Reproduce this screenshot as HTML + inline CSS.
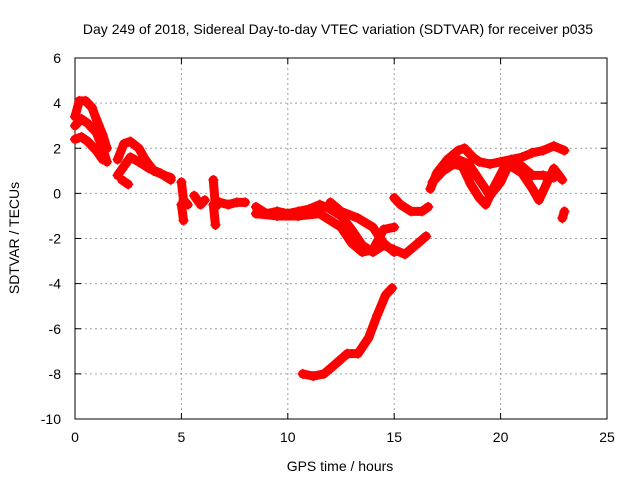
<!DOCTYPE html>
<html><head><meta charset="utf-8"><style>
html,body{margin:0;padding:0;background:#fff;}
svg text{font-family:"Liberation Sans",sans-serif;font-size:14px;fill:#000;}
</style></head><body>
<svg id="chart" width="640" height="480" viewBox="0 0 640 480" xmlns="http://www.w3.org/2000/svg">
<rect width="640" height="480" fill="#fff"/>
<text x="338" y="34" text-anchor="middle" font-size="14.5">Day 249 of 2018, Sidereal Day-to-day VTEC variation (SDTVAR) for receiver p035</text>
<g id="grid"></g>
<g id="axes"></g>
<g id="series"></g>
<text x="340" y="471" text-anchor="middle">GPS time / hours</text>
<text x="19" y="238" text-anchor="middle" transform="rotate(-90 19 238)">SDTVAR / TECUs</text>
</svg>
<script>
const xTicks=[0,5,10,15,20,25];
const yTicks=[6,4,2,0,-2,-4,-6,-8,-10];
const tracks=[
[[0,3.4],[0.2,4.1],[0.5,4.1],[0.8,3.8],[1.0,3.3],[1.3,2.6],[1.5,2.0]],
[[0,3.0],[0.3,3.3],[0.6,3.1],[1.0,2.7],[1.3,2.0],[1.5,1.4]],
[[0,2.4],[0.3,2.5],[0.6,2.3],[1.0,1.9],[1.3,1.5]],
[[2.0,1.5],[2.3,2.2],[2.6,2.3],[3.0,2.0],[3.3,1.5],[3.7,1.0],[4.2,0.8],[4.5,0.7]],
[[2.0,0.8],[2.3,1.2],[2.6,1.6],[3.0,1.4],[3.5,1.1],[4.0,0.9],[4.5,0.6]],
[[2.2,0.6],[2.5,0.4]],
[[5.0,0.5],[5.1,-0.3],[5.3,-0.5]],
[[5.0,-0.5],[5.1,-1.2]],
[[5.6,-0.1],[5.9,-0.5],[6.1,-0.3]],
[[6.5,0.6],[6.6,-0.6],[6.8,-0.4],[7.2,-0.5],[7.6,-0.4],[8.0,-0.4]],
[[6.5,-0.5],[6.6,-1.4]],
[[8.5,-0.6],[9,-0.9],[9.5,-0.8],[10,-0.9],[10.5,-0.8],[11,-0.7],[11.5,-0.5],[12,-0.7],[12.5,-1.0],[13,-1.6],[13.5,-2.3],[14,-2.6],[14.5,-2.3],[15,-2.5],[15.5,-2.7],[16,-2.3],[16.5,-1.9]],
[[8.5,-0.9],[9.5,-1.0],[10.5,-1.0],[11.5,-0.9],[12.5,-1.5],[13,-2.2],[13.5,-2.6],[14,-2.5],[14.5,-1.6],[15,-1.5]],
[[12,-0.4],[12.5,-0.8],[13.3,-1.1],[14,-1.5],[14.5,-2.2],[15,-2.6]],
[[15,-0.2],[15.3,-0.5],[15.8,-0.8],[16.3,-0.8],[16.6,-0.6]],
[[10.7,-8.0],[11.2,-8.1],[11.7,-8.0],[12.2,-7.6],[12.8,-7.1],[13.3,-7.1],[13.8,-6.4],[14.2,-5.4],[14.6,-4.5],[14.9,-4.2]],
[[16.7,0.2],[17,0.9],[17.5,1.5],[18,1.9],[18.3,2.0],[18.7,1.6],[19,1.4],[19.5,1.3],[20,1.4],[20.5,1.5],[21,1.6],[21.5,1.8],[22,1.9],[22.5,2.1],[23,1.9]],
[[16.8,0.5],[17.3,1.0],[17.8,1.3],[18.2,1.2],[18.6,0.4],[19,-0.2],[19.3,-0.5],[19.7,0.3],[20.2,1.2],[20.5,1.2],[21.0,0.9],[21.5,0.2],[21.8,-0.3],[22.2,0.5],[22.5,1.1],[22.9,0.6]],
[[17.5,1.2],[18,1.5],[18.5,1.3],[19,0.6],[19.5,-0.1],[20,0.5],[20.5,1.5],[21,1.2],[21.5,0.8],[22,0.8],[22.5,0.7]],
[[22.9,-1.1],[23.0,-0.8]]
];
const NS='http://www.w3.org/2000/svg';
const L=75,R=607,T=58,B=419;
const xs=v=>L+(v-0)/25*(R-L);
const ys=v=>B-(v+10)/16*(B-T);
function mk(tag,attrs,parent){const e=document.createElementNS(NS,tag);for(const k in attrs)e.setAttribute(k,attrs[k]);parent.appendChild(e);return e;}
const grid=document.getElementById('grid'),axes=document.getElementById('axes'),ser=document.getElementById('series');
xTicks.forEach(t=>{const x=xs(t);
 if(t>0&&t<25){const g=mk('line',{x1:x,x2:x,y1:T,y2:B,stroke:'#a0a0a0','stroke-dasharray':'2,3','stroke-width':1},grid);}
 mk('line',{x1:x,x2:x,y1:B,y2:B-6,stroke:'#000'},axes);mk('line',{x1:x,x2:x,y1:T,y2:T+6,stroke:'#000'},axes);
 const tx=mk('text',{x:x,y:B+23,'text-anchor':'middle'},axes);tx.textContent=t;
 });
yTicks.forEach(t=>{const y=ys(t);
 if(t>-10&&t<6){const g=mk('line',{x1:L,x2:R,y1:y,y2:y,stroke:'#a0a0a0','stroke-dasharray':'2,3','stroke-width':1},grid);}
 mk('line',{x1:L,x2:L+6,y1:y,y2:y,stroke:'#000'},axes);mk('line',{x1:R,x2:R-6,y1:y,y2:y,stroke:'#000'},axes);
 const tx=mk('text',{x:L-14,y:y+5,'text-anchor':'end'},axes);tx.textContent=t;
 });
mk('rect',{x:L,y:T,width:R-L,height:B-T,fill:'none',stroke:'#000'},axes);
tracks.forEach(tr=>{
 const pl=mk('polyline',{points:tr.map(p=>xs(p[0])+','+ys(p[1])).join(' '),fill:'none',stroke:'#ff0000','stroke-width':9,'stroke-linejoin':'round','stroke-linecap':'round'},ser);
 
 
 tr.forEach(p=>{const x=xs(p[0]),y=ys(p[1]);
  const m=mk('path',{d:`M${x-5},${y}h10M${x},${y-5}v10`,stroke:'#ff0000','stroke-width':1.5},ser);
  
  });
});
</script>
</body></html>
